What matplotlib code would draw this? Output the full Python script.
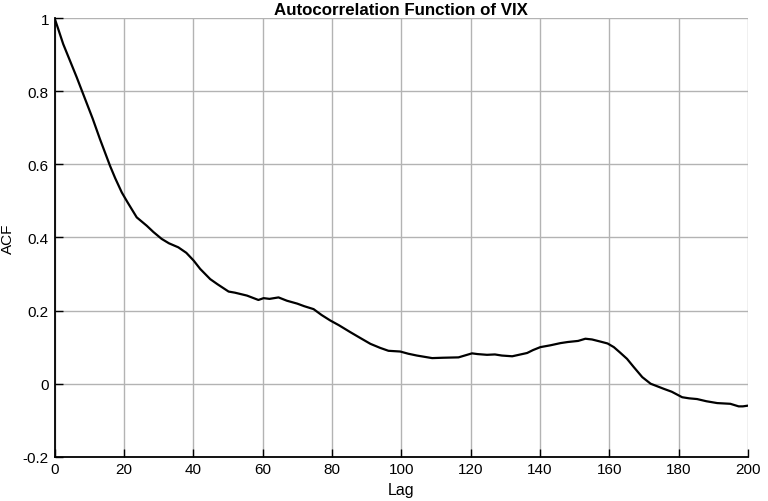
import numpy as np
import matplotlib
matplotlib.use("Agg")
import matplotlib.pyplot as plt

plt.rcParams["font.family"] = ["Liberation Sans", "DejaVu Sans"]

# values
lags = [0, 1, 2.5, 4, 6.4, 8.8, 11, 13.1, 16, 17.5, 19.4, 21, 23.7, 26.6, 28.5,
        30.9, 33, 35.7, 38, 40.1, 42, 44.9, 47, 50.2, 52, 55.5, 58.8, 60.3, 62,
        64.6, 67, 70, 72, 74.7, 77, 79.5, 82, 85.3, 88, 91.1, 93.9, 96.3, 99.7,
        102, 104.5, 108.9, 112, 116.5, 120.4, 122, 124.7, 127, 129, 132, 136.3,
        138, 140.1, 143, 145.9, 148, 151, 153.1, 155, 157.5, 159.5, 161.3, 163,
        165.1, 167, 169.5, 171.9, 175.7, 178, 181, 183, 185.3, 188, 191.1,
        194.9, 197.3, 198.5, 200]
acf = [1.0, 0.972, 0.929, 0.894, 0.838, 0.779, 0.725, 0.669, 0.596, 0.562,
       0.523, 0.497, 0.455, 0.432, 0.415, 0.396, 0.384, 0.373, 0.358, 0.337,
       0.314, 0.286, 0.272, 0.252, 0.249, 0.241, 0.229, 0.234, 0.232, 0.236,
       0.227, 0.219, 0.212, 0.204, 0.188, 0.173, 0.160, 0.141, 0.126, 0.109,
       0.098, 0.090, 0.088, 0.082, 0.077, 0.070, 0.071, 0.072, 0.083, 0.081,
       0.079, 0.080, 0.077, 0.075, 0.084, 0.092, 0.100, 0.105, 0.111, 0.114,
       0.117, 0.123, 0.121, 0.115, 0.110, 0.100, 0.086, 0.068, 0.046, 0.018,
       0.000, -0.014, -0.022, -0.037, -0.040, -0.042, -0.048, -0.053, -0.055,
       -0.062, -0.062, -0.060]

fig = plt.figure(figsize=(7.68, 5.02), dpi=100)
ax = fig.add_axes([0.071, 0.088, 0.903, 0.874])

ax.plot(lags, acf, color="black", linewidth=1.6)

ax.set_xlim(0, 200)
ax.set_ylim(-0.2, 1.0)
ax.set_xticks(np.arange(0, 201, 20))
ax.set_yticks([-0.2, 0, 0.2, 0.4, 0.6, 0.8, 1.0])
ax.set_yticklabels(["-0.2", "0", "0.2", "0.4", "0.6", "0.8", "1"])
ax.grid(True, color="#b3b3b3", linewidth=1.0)
ax.set_axisbelow(True)

for s in ["top", "right"]:
    ax.spines[s].set_visible(False)
for s in ["left", "bottom"]:
    ax.spines[s].set_linewidth(1.3)
ax.tick_params(direction="in", length=6, width=1, labelsize=11, pad=4)

ax.set_xlabel("Lag", fontsize=11.5, labelpad=4)
ax.set_ylabel("ACF", fontsize=11, labelpad=6)
ax.set_title("Autocorrelation Function of VIX", fontsize=12.2,
             fontweight="bold", pad=3)

fig.savefig("out.png", dpi=100)
